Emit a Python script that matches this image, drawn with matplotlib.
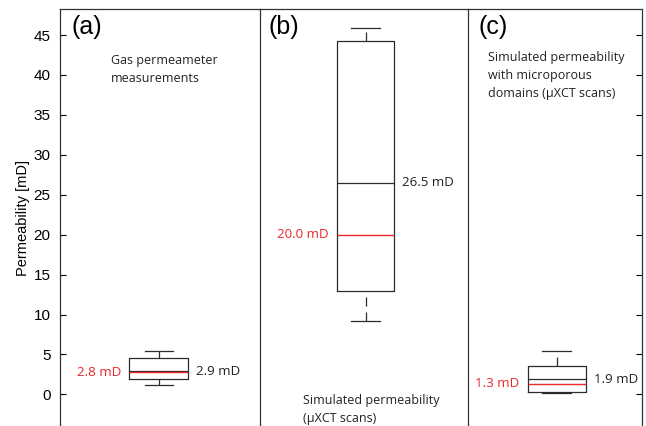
import matplotlib
matplotlib.use("Agg")
import matplotlib.pyplot as plt

# Permeability summaries for the three data sets
panel_tags = ["(a)", "(b)", "(c)"]
descriptions = [
    "Gas permeameter\nmeasurements",
    "Simulated permeability\n(\u00b5XCT scans)",
    "Simulated permeability\nwith microporous\ndomains (\u00b5XCT scans)",
]
whisker_low = [1.2, 9.2, 0.2]
quartile_low = [1.9, 13.0, 0.3]
quartile_high = [4.5, 44.2, 3.55]
whisker_high = [5.45, 45.85, 5.45]
medians = [2.9, 26.5, 1.9]
means = [2.8, 20.0, 1.3]
y_ticks = list(range(0, 50, 5))

# Layout (panel x axes are in pixel-like units)
panel_widths = [200, 209, 173.5]
box_pos = [99, 106, 88]
box_width = [59, 58, 58]
cap_width = [28, 29, 28.7]
tag_x = [12.2, 8.8, 9.8]
desc_x = [51.5, 43.2, 19.8]
desc_y = [40.7, -1.95, 39.9]

RED = "#e8282b"
DARK = "#2b2b2b"
plt.rcParams["lines.scale_dashes"] = False

fig = plt.figure(figsize=(6.46, 4.26), dpi=100)
gs = fig.add_gridspec(1, 3, width_ratios=panel_widths, left=59.5 / 646,
                      right=642 / 646, bottom=0, top=1 - 9 / 426, wspace=0)
axes = []
for i in range(3):
    ax = fig.add_subplot(gs[0, i], sharey=axes[0] if axes else None)
    ax.patch.set_visible(False)
    axes.append(ax)

for i, ax in enumerate(axes):
    stats = [{
        "whislo": whisker_low[i], "q1": quartile_low[i], "med": medians[i],
        "q3": quartile_high[i], "whishi": whisker_high[i], "mean": means[i],
    }]
    art = ax.bxp(stats, positions=[box_pos[i]], widths=[box_width[i]],
                 capwidths=[cap_width[i]], showmeans=True, meanline=True,
                 showfliers=False, manage_ticks=False,
                 boxprops=dict(color=DARK, linewidth=0.9),
                 whiskerprops=dict(color=DARK, linewidth=0.9,
                                   linestyle=(0, (6.5, 4.3))),
                 capprops=dict(color=DARK, linewidth=0.9),
                 medianprops=dict(color=DARK, linewidth=0.9),
                 meanprops=dict(color=RED, linewidth=1.0, linestyle="-"))
    # dashes of the lower whisker start at the cap
    low = art["whiskers"][0]
    low.set_ydata(low.get_ydata()[::-1])

    ax.set_xlim(0, panel_widths[i])
    ax.set_ylim(-3.96, 48.26)
    ax.set_xticks([])
    ax.set_yticks(y_ticks)
    ax.spines["bottom"].set_visible(False)
    if i > 0:
        ax.spines["left"].set_visible(False)
    for s in ax.spines.values():
        s.set_color("#333333")
        s.set_linewidth(0.9)

    ax.text(tag_x[i], 46.0, panel_tags[i], fontsize=18,
            family="Liberation Sans", ha="left", va="center")
    ax.text(desc_x[i], desc_y[i], descriptions[i], fontsize=9,
            family="Open Sans", color="#222222", ha="left", va="center",
            linespacing=1.5)

    ax.text(box_pos[i] - box_width[i] / 2 - 8, means[i], f"{means[i]:.1f} mD",
            fontsize=9.6, family="Open Sans", color=RED, ha="right", va="center")
    ax.text(box_pos[i] + box_width[i] / 2 + 8, medians[i], f"{medians[i]:.1f} mD",
            fontsize=9.6, family="Open Sans", color="#222222", ha="left", va="center")

axes[0].tick_params(axis="y", direction="in", length=4.3, width=0.8,
                    left=True, right=False, labelsize=11, pad=6.5)
for lbl in axes[0].get_yticklabels():
    lbl.set_family("Liberation Sans")
axes[1].tick_params(axis="y", left=False, right=False, labelleft=False)
axes[2].tick_params(axis="y", direction="in", length=4.3, width=0.8,
                    left=False, right=True, labelleft=False, labelright=False)

axes[0].set_ylabel("Permeability [mD]", fontsize=10.5, family="Liberation Sans")
axes[0].yaxis.set_label_coords(-0.1475, 0.5)

fig.savefig("out.png", dpi=100)
